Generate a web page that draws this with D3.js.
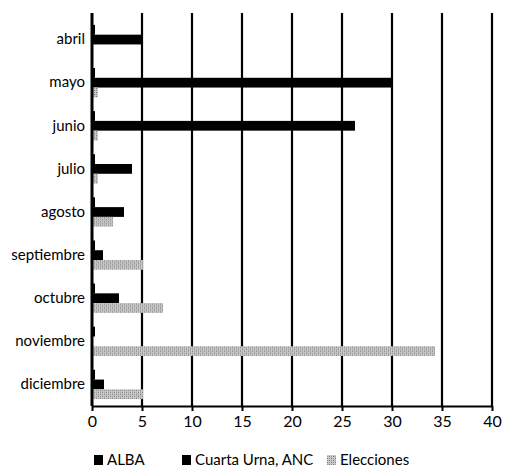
<!DOCTYPE html>
<html>
<head>
<meta charset="utf-8">
<script src="https://cdn.jsdelivr.net/npm/d3@7"></script>
<style>
  body { margin: 0; background: #fff; }
  text { font-family: Lato, "Open Sans", sans-serif; fill: #000; }
</style>
</head>
<body>
<div id="chart"></div>
<script>
// months (top to bottom)
var months = ["abril", "mayo", "junio", "julio", "agosto", "septiembre", "octubre", "noviembre", "diciembre"];
var seriesNames = ["ALBA", "Cuarta Urna, ANC", "Elecciones"];
var alba = [0.3, 0.3, 0.3, 0.3, 0.3, 0.3, 0.3, 0.3, 0.3];
var cuartaUrna = [4.9, 30, 26.3, 4.0, 3.2, 1.1, 2.7, 0.1, 1.2];
var elecciones = [0.1, 0.6, 0.6, 0.6, 2.1, 5.1, 7.1, 34.3, 5.1];
var xTicks = [0, 5, 10, 15, 20, 25, 30, 35, 40];

var margin = { top: 18, right: 14, bottom: 62, left: 92 };
var width = 506 - margin.left - margin.right;
var height = 468 - margin.top - margin.bottom;

var svg = d3.select("#chart")
    .append("svg")
        .attr("width", 506)
        .attr("height", 468);

// dithered grey fill like the scanned original
var defs = svg.append("defs");
var pat = defs.append("pattern")
    .attr("id", "grey")
    .attr("width", 4).attr("height", 4)
    .attr("patternUnits", "userSpaceOnUse");
pat.append("rect").attr("width", 4).attr("height", 4).attr("fill", "#c8c8c8");
pat.append("rect").attr("x", 0).attr("y", 0).attr("width", 1).attr("height", 1).attr("fill", "#777");
pat.append("rect").attr("x", 2).attr("y", 2).attr("width", 1).attr("height", 1).attr("fill", "#777");
pat.append("rect").attr("x", 2).attr("y", 0).attr("width", 1).attr("height", 1).attr("fill", "#999");
pat.append("rect").attr("x", 0).attr("y", 2).attr("width", 1).attr("height", 1).attr("fill", "#999");

var g = svg.append("g")
    .attr("transform", "translate(" + margin.left + "," + margin.top + ")");

var xScale = d3.scaleLinear()
    .domain([0, 40])
    .range([0, 400]);

var yScale = d3.scaleBand()
    .domain(months)
    .range([0, height])
    .paddingInner(0.32)
    .paddingOuter(0.16);

var ySub = d3.scaleBand()
    .domain(seriesNames)
    .range([0, yScale.bandwidth()]);

var fills = ["#000", "#000", "url(#grey)"];

// gridlines
g.append("g")
    .selectAll("line")
    .data(xTicks.slice(1))
    .join("line")
        .attr("x1", d => xScale(d))
        .attr("x2", d => xScale(d))
        .attr("y1", -5)
        .attr("y2", height)
        .attr("stroke", "#000")
        .attr("stroke-width", 2.2);

// bars
var rows = months.map(function (m, i) {
    return { month: m, values: [alba[i], cuartaUrna[i], elecciones[i]] };
});

var groups = g.append("g")
    .selectAll("g")
    .data(rows)
    .join("g")
        .attr("transform", d => "translate(0," + yScale(d.month) + ")");

groups.selectAll("rect")
    .data(d => d.values.map((v, j) => ({ key: seriesNames[j], value: v, fill: fills[j] })))
    .join("rect")
        .attr("x", xScale(0))
        .attr("y", d => ySub(d.key))
        .attr("width", d => xScale(d.value) - xScale(0))
        .attr("height", ySub.bandwidth())
        .attr("fill", d => d.fill);

// x axis
var xAxis = g.append("g")
    .attr("transform", "translate(0," + height + ")")
    .call(d3.axisBottom(xScale).tickValues(xTicks).tickSize(5).tickSizeOuter(0));
xAxis.select(".domain").attr("stroke-width", 2.2);
xAxis.selectAll(".tick line").attr("stroke-width", 2);
xAxis.selectAll("text")
    .style("font-size", "16px")
    .attr("dy", "0.8em");

// y axis
var yAxis = g.append("g")
    .call(d3.axisLeft(yScale).tickSize(0).tickSizeOuter(0).tickPadding(7));
yAxis.select(".domain")
    .attr("d", "M0," + (-5) + "V" + height)
    .attr("stroke-width", 3);
yAxis.selectAll("text")
    .style("font-size", "15px");

// legend
var legendX = [94, 182, 327];
var legend = svg.append("g")
    .selectAll("g")
    .data(seriesNames)
    .join("g")
        .attr("transform", (d, i) => "translate(" + legendX[i] + ",454)");
legend.append("rect")
    .attr("width", 9)
    .attr("height", 10)
    .attr("y", 1)
    .attr("fill", (d, i) => fills[i]);
legend.append("text")
    .attr("x", 13)
    .attr("y", 11)
    .style("font-size", "15px")
    .text(d => d);
</script>
</body>
</html>
